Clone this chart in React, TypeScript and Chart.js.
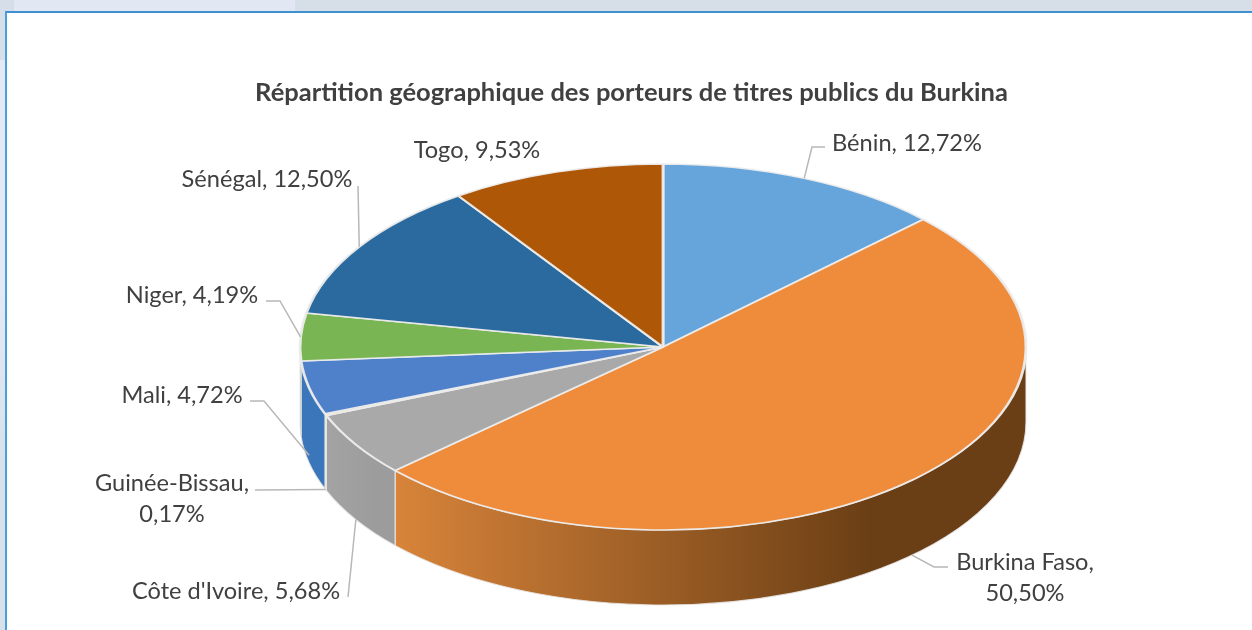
import React, { useEffect, useRef } from "react";
import { Chart, registerables } from "chart.js";

Chart.register(...registerables);

const countries = ["Bénin", "Burkina Faso", "Côte d'Ivoire", "Guinée-Bissau", "Mali", "Niger", "Sénégal", "Togo"];
const shares = [12.72, 50.5, 5.68, 0.17, 4.72, 4.19, 12.5, 9.53];
const chartTitle = "Répartition géographique des porteurs de titres publics du Burkina";
const topColors = ["#65a5db", "#ee8c3c", "#a9a9a9", "#efe6c8", "#4f81cb", "#7ab553", "#2a6a9e", "#ae5707"];
const wallStart = ["#5a93c4", "#d8843a", "#a3a3a3", "#e8e0c8", "#3b76ba", "#5f8f40", "#245a88", "#8a4506"];
const wallEnd = ["#3c6a8e", "#6b3f15", "#9c9c9c", "#e0d8c0", "#3b76ba", "#4f7a36", "#1e4d74", "#703804"];

// Label placement: text centre, line break after the comma, leader bend points, wall depth of leader's anchor
const labelLayout = [
  { x: 907, y: 143, wrap: false, bend: [[825, 147], [812, 147]], onWall: 0 },
  { x: 1025, y: 562, wrap: true, bend: [[948, 567], [934, 567]], onWall: 1 },
  { x: 236, y: 591, wrap: false, bend: [[348, 597]], onWall: 1 },
  { x: 172, y: 483, wrap: true, bend: [[255, 490]], onWall: 1 },
  { x: 182, y: 395, wrap: false, bend: [[250, 401], [264, 401]], onWall: 0.9 },
  { x: 192, y: 295, wrap: false, bend: [[266, 301], [280, 301]], onWall: 0 },
  { x: 267, y: 179, wrap: false, bend: [[358, 186]], onWall: 0 },
  { x: 477, y: 150, wrap: false, bend: [], onWall: 0 },
];

const CX = 663;
const CY = 347;
const RX = 363;
const RY = 183;
const DEPTH = 75;

const fmt = (v: number) => v.toFixed(2).replace(".", ",") + "%";

const pie3d = {
  id: "pie3d",
  beforeDatasetsDraw(chart: any) {
    const ctx = chart.ctx;
    const arcs = chart.getDatasetMeta(0).data;
    // outer side walls, visible on the front half of the ellipse only
    arcs.forEach((arc: any, i: number) => {
      const a = Math.max(arc.startAngle, 0);
      const b = Math.min(arc.endAngle, Math.PI);
      if (b <= a) return;
      const x1 = CX + RX * Math.cos(b);
      const x2 = CX + RX * Math.cos(a);
      const g = ctx.createLinearGradient(x1, 0, x2, 0);
      g.addColorStop(0, wallStart[i]);
      g.addColorStop(0.75, wallEnd[i]);
      g.addColorStop(1, wallEnd[i]);
      ctx.save();
      ctx.beginPath();
      ctx.ellipse(CX, CY, RX, RY, 0, a, b);
      ctx.lineTo(x1, CY + RY * Math.sin(b) + DEPTH);
      ctx.ellipse(CX, CY + DEPTH, RX, RY, 0, b, a, true);
      ctx.closePath();
      ctx.fillStyle = g;
      ctx.fill();
      ctx.strokeStyle = "rgba(232,232,232,0.85)";
      ctx.lineWidth = 1.2;
      ctx.stroke();
      ctx.restore();
    });
    const R = arcs[0].outerRadius;
    ctx.save();
    ctx.translate(CX, CY);
    ctx.scale(RX / R, RY / R);
    ctx.translate(-arcs[0].x, -arcs[0].y);
  },
  afterDatasetsDraw(chart: any) {
    const ctx = chart.ctx;
    ctx.restore();
    const arcs = chart.getDatasetMeta(0).data;
    arcs.forEach((arc: any, i: number) => {
      const l = labelLayout[i];
      const mid = (arc.startAngle + arc.endAngle) / 2;
      if (l.bend.length) {
        ctx.beginPath();
        ctx.moveTo(l.bend[0][0], l.bend[0][1]);
        l.bend.slice(1).forEach((p) => ctx.lineTo(p[0], p[1]));
        ctx.lineTo(CX + RX * Math.cos(mid), CY + RY * Math.sin(mid) + l.onWall * DEPTH);
        ctx.strokeStyle = "#b8b8b8";
        ctx.lineWidth = 1.5;
        ctx.stroke();
      }
      ctx.font = "23.6px Lato";
      ctx.fillStyle = "#404040";
      ctx.textAlign = "center";
      ctx.textBaseline = "middle";
      if (l.wrap) {
        ctx.fillText(countries[i] + ",", l.x, l.y);
        ctx.fillText(fmt(shares[i]), l.x, l.y + 31);
      } else {
        ctx.fillText(countries[i] + ", " + fmt(shares[i]), l.x, l.y);
      }
    });
  },
};

export default function App() {
  const ref = useRef<HTMLCanvasElement>(null);
  useEffect(() => {
    document.body.style.margin = "0";
    const chart = new Chart(ref.current!, {
      type: "pie",
      data: {
        labels: countries,
        datasets: [
          {
            data: shares,
            backgroundColor: topColors,
            borderColor: "rgba(236,236,236,0.95)",
            borderWidth: 2,
            clip: false,
          } as any,
        ],
      },
      options: {
        responsive: false,
        animation: false,
        events: [],
        layout: { padding: { left: 11 } },
        plugins: {
          legend: { display: false },
          tooltip: { enabled: false },
          title: {
            display: true,
            text: chartTitle,
            color: "#404040",
            font: { family: "Lato", size: 25.5, weight: "bold" },
            padding: { top: 77, bottom: 10 },
          },
        },
      },
      plugins: [pie3d],
    });
    return () => chart.destroy();
  }, []);
  return (
    <div
      style={{
        position: "fixed",
        left: 0,
        top: 0,
        width: 1252,
        height: 630,
        overflow: "hidden",
        background: "linear-gradient(to right, #d6dee9 0 14px, #e1e8f3 14px 295px, #d6dee8 295px)",
      }}
    >
      <div
        style={{
          position: "absolute",
          left: 0,
          top: 60,
          width: 5,
          height: 570,
          background: "linear-gradient(to bottom, #e3eaf4 0 40%, #d8e0ea 70%)",
        }}
      />
      <div
        style={{
          position: "absolute",
          left: 5,
          top: 11,
          width: 1247,
          height: 619,
          boxSizing: "border-box",
          background: "#fff",
          borderLeft: "2px solid #4a9fd8",
          borderTop: "2px solid #3f90d0",
        }}
      />
      <canvas ref={ref} width={1252} height={630} style={{ position: "absolute", left: 0, top: 0 }} />
    </div>
  );
}
